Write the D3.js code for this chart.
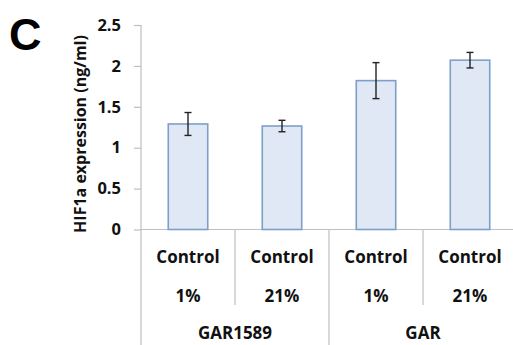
<!DOCTYPE html>
<html>
<head>
<meta charset="utf-8">
<script src="https://cdn.jsdelivr.net/npm/d3@7"></script>
<style>
body { margin: 0; background: #fff; }
text { font-family: "Open Sans", sans-serif; font-weight: bold; }
</style>
</head>
<body>
<svg id="chart" width="513" height="345"></svg>
<script>
var categories = ["GAR1589 1%", "GAR1589 21%", "GAR 1%", "GAR 21%"];
var conditions = ["Control", "Control", "Control", "Control"];
var oxygen = ["1%", "21%", "1%", "21%"];
var groups = ["GAR1589", "GAR"];
var groupSize = [2, 2];
var values = [1.29, 1.265, 1.82, 2.07];
var errors = [0.14, 0.07, 0.22, 0.095];
var yTicks = [0, 0.5, 1, 1.5, 2, 2.5];

var svg = d3.select("#chart");
var axisCol = "#bfbfbf";

var x = d3.scaleBand().domain(categories).range([141, 517])
		.paddingInner(0.58).paddingOuter(0.29);
var step = x.step();
var y = d3.scaleLinear().domain([0, 2.5]).range([229.5, 25]);

// y axis
var yAxis = svg.append("g").attr("transform", "translate(141,0)")
		.call(d3.axisLeft(y).tickValues(yTicks).tickSize(7).tickPadding(13)
			.tickFormat(function(d) { return d; }));
yAxis.select(".domain").remove();
yAxis.selectAll(".tick line").attr("stroke", axisCol).attr("stroke-width", 1.2);
yAxis.selectAll(".tick text").attr("font-size", 16.5).attr("fill", "#111")
		.style("font-family", "'Open Sans', sans-serif").style("font-weight", "bold");

svg.append("line").attr("x1", 141).attr("x2", 141).attr("y1", 25).attr("y2", 345)
		.attr("stroke", axisCol).attr("stroke-width", 1.2);
svg.append("line").attr("x1", 141).attr("x2", 517).attr("y1", y(0)).attr("y2", y(0))
		.attr("stroke", axisCol).attr("stroke-width", 1.2);

// separators between categories
var idx = 0;
groupSize.forEach(function(n, g) {
	for (var k = 1; k < n; k++) {
		var sx = 141 + (idx + k) * step;
		svg.append("line").attr("x1", sx).attr("x2", sx).attr("y1", y(0)).attr("y2", 305)
			.attr("stroke", axisCol).attr("stroke-width", 1.2);
	}
	idx += n;
	var ex = 141 + idx * step;
	svg.append("line").attr("x1", ex).attr("x2", ex).attr("y1", y(0)).attr("y2", 345)
		.attr("stroke", axisCol).attr("stroke-width", 1.2);
});

// bars
svg.selectAll(".bar").data(values).enter().append("rect")
		.attr("class", "bar")
		.attr("x", function(d, i) { return x(categories[i]); })
		.attr("y", function(d) { return y(d); })
		.attr("width", x.bandwidth())
		.attr("height", function(d) { return y(0) - y(d); })
		.attr("fill", "#dfe8f4")
		.attr("stroke", "#7f9fcb")
		.attr("stroke-width", 1.6);

// error bars
var eb = svg.selectAll(".err").data(values).enter().append("g").attr("class", "err");
eb.append("line")
		.attr("x1", function(d, i) { return x(categories[i]) + x.bandwidth() / 2; })
		.attr("x2", function(d, i) { return x(categories[i]) + x.bandwidth() / 2; })
		.attr("y1", function(d, i) { return y(d + errors[i]); })
		.attr("y2", function(d, i) { return y(d - errors[i]); });
[1, -1].forEach(function(s) {
	eb.append("line")
		.attr("x1", function(d, i) { return x(categories[i]) + x.bandwidth() / 2 - 3.5; })
		.attr("x2", function(d, i) { return x(categories[i]) + x.bandwidth() / 2 + 3.5; })
		.attr("y1", function(d, i) { return y(d + s * errors[i]); })
		.attr("y2", function(d, i) { return y(d + s * errors[i]); });
});
eb.selectAll("line").attr("stroke", "#222").attr("stroke-width", 1.4);

// category labels
var cx = function(i) { return x(categories[i]) + x.bandwidth() / 2; };
svg.selectAll(".cond").data(conditions).enter().append("text")
		.attr("x", function(d, i) { return cx(i); }).attr("y", 263)
		.attr("text-anchor", "middle").attr("font-size", 17).attr("fill", "#111")
		.text(function(d) { return d; });
svg.selectAll(".oxy").data(oxygen).enter().append("text")
		.attr("x", function(d, i) { return cx(i); }).attr("y", 302)
		.attr("text-anchor", "middle").attr("font-size", 17).attr("fill", "#111")
		.text(function(d) { return d; });
var start = 0;
groups.forEach(function(g, j) {
	var gx = 141 + (start + groupSize[j] / 2) * step;
	svg.append("text").attr("x", gx).attr("y", 339)
		.attr("text-anchor", "middle").attr("font-size", 17).attr("fill", "#111")
		.text(g);
	start += groupSize[j];
});

// y title
svg.append("text").attr("transform", "translate(80,134) rotate(-90)")
		.attr("dy", "0.35em").attr("text-anchor", "middle")
		.attr("font-size", 16).attr("fill", "#111")
		.text("HIF1a expression (ng/ml)");

// panel letter
svg.append("text").attr("x", 9).attr("y", 50)
		.style("font-family", "Arial, 'Liberation Sans', sans-serif")
		.attr("font-size", 45).attr("fill", "#000").text("C");
</script>
</body>
</html>
